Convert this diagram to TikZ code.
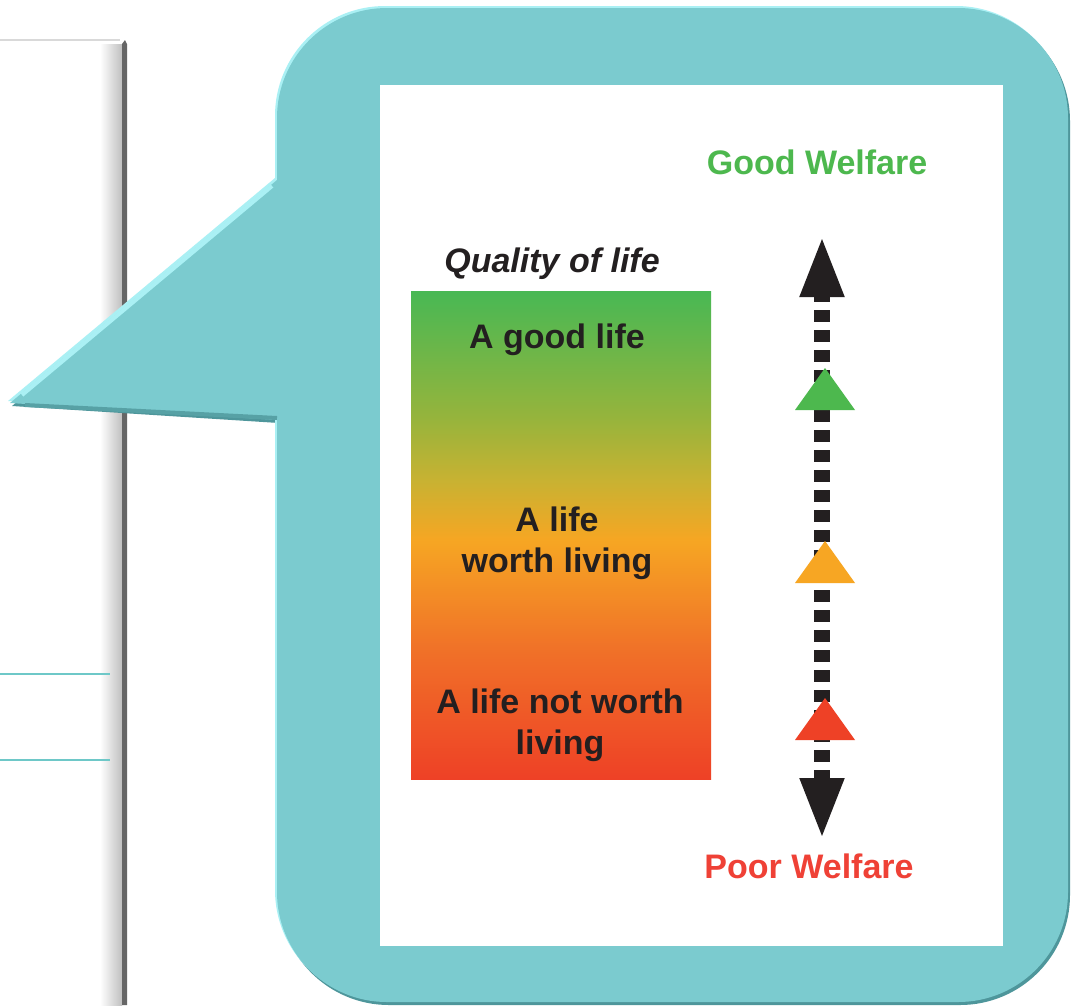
\documentclass[tikz,border=0pt]{standalone}
\usepackage{fontspec}
\setmainfont{Liberation Sans}
\usetikzlibrary{arrows.meta}

\definecolor{bubble}{RGB}{123,203,207}
\definecolor{bubbledark}{RGB}{78,150,155}
\definecolor{bubblelight}{RGB}{170,240,244}
\definecolor{ink}{RGB}{35,31,32}
\definecolor{goodgreen}{RGB}{77,184,78}
\definecolor{poorred}{RGB}{239,65,54}
\definecolor{markorange}{RGB}{247,166,35}
\definecolor{markred}{RGB}{238,65,38}
\definecolor{rule}{RGB}{110,200,200}

% colour scale of the quality box (25bp = bottom, 75bp = top)
\pgfdeclareverticalshading{qualityshade}{100bp}{%
  color(0bp)=(markred); color(25bp)=(markred);
  color(38bp)=(rgb,255:red,240;green,112;blue,40);
  color(49.5bp)=(rgb,255:red,246;green,166;blue,35);
  color(55.6bp)=(rgb,255:red,200;green,178;blue,50);
  color(62bp)=(rgb,255:red,150;green,180;blue,60);
  color(75bp)=(rgb,255:red,72;green,184;blue,84);
  color(100bp)=(rgb,255:red,72;green,184;blue,84)}

\begin{document}
\begin{tikzpicture}[x=1pt,y=-1pt,
   lbl/.style={font=\fontsize{34}{41}\selectfont\bfseries, text=ink,
               align=center, inner sep=0pt},
   bubble path/.style={insert path={
      (277,420) -- (277,892) arc[start angle=180,end angle=90,radius=110]
      -- (958,1002) arc[start angle=90,end angle=0,radius=110]
      -- (1068,118) arc[start angle=0,end angle=-90,radius=110]
      -- (387,8) arc[start angle=-90,end angle=-180,radius=110]
      -- (277,180) -- (10,403) -- cycle}}]
   \useasboundingbox[fill=white] (0,0) rectangle (1073,1005);

   % page on the left
   \draw[black!15, line width=1.5pt] (0,40) -- (120,40);
   \shade[left color=white, right color=black!25] (100,44) rectangle (122,1005);
   \fill[black!60] (122,1005) -- (122,44) -- (125,40) -- (127,44) -- (127,1005) -- cycle;
   \draw[rule, line width=1.5pt] (0,674) -- (110,674);
   \draw[rule, line width=1.5pt] (0,760) -- (110,760);

   % callout
   \fill[bubbledark, xshift=2pt, yshift=-3pt, bubble path];
   \fill[bubblelight, xshift=-2pt, yshift=2pt, bubble path];
   \fill[bubble, bubble path];
   \draw[bubblelight, line width=4pt] (272,186) -- (22,395);
   \draw[bubbledark!80!bubble, line width=4pt] (25,405) -- (277,418);
   \fill[white] (380,85) rectangle (1003,946);

   % quality of life scale
   \shade[shading=qualityshade] (411,291) rectangle (711,779);
   \node[lbl, font=\fontsize{34}{41}\selectfont\bfseries\itshape] (quality) at (552,264) {Quality of life};
   \node[lbl] (good)  at (557,340) {A good life};
   \node[lbl] (worth) at (557,543) {A life\\worth living};
   \node[lbl] (notworth) at (560,725) {A life not worth\\living};

   % welfare axis
   \node[lbl, text=goodgreen] (goodw) at (817,162) {Good Welfare};
   \node[lbl, text=poorred]   (poorw) at (809,866) {Poor Welfare};
   \coordinate (top) at (822,235);
   \coordinate (bot) at (822,840);
   \draw[ink, line width=16pt, dash pattern=on 12pt off 8pt,
         {Triangle[width=40pt,length=62pt]}-{Triangle[width=40pt,length=62pt]}] (bot) -- (top);
   \foreach \yb/\cc in {410/goodgreen, 583/markorange, 740/markred}
      \fill[\cc] (795,\yb) -- (825,\yb-42) -- (855,\yb) -- cycle;
\end{tikzpicture}
\end{document}
